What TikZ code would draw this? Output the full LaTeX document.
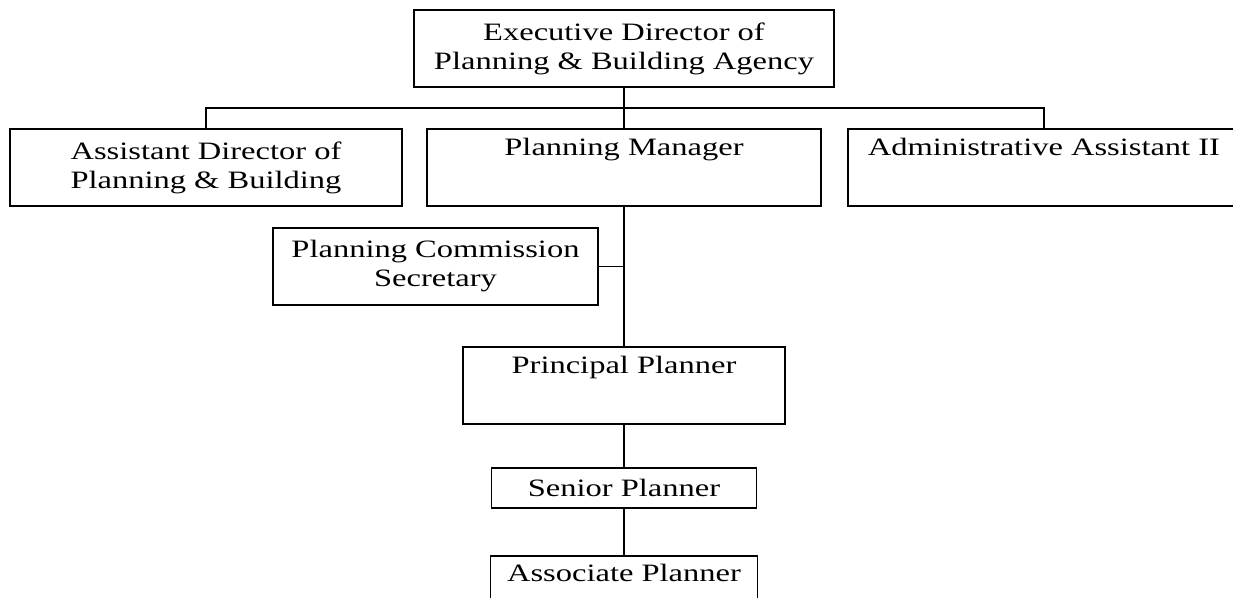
\documentclass[tikz,border=0pt]{standalone}
\usepackage{fontspec}
\setmainfont{Liberation Serif}[FakeStretch=1.3]
\usepackage{tikz}
\usetikzlibrary{positioning}
\tikzset{
  post/.style={rectangle, draw=black, line width=1.6pt, inner sep=0pt, align=center, font=\fontsize{25}{29}\selectfont},
  toptext/.style={text height=26pt, text depth=#1},
  link/.style={line width=1.6pt, black},
}

\begin{document}
\begin{tikzpicture}[x=1pt, y=-1pt]
\useasboundingbox (0,0) rectangle (1233,597);
\clip (0,0) rectangle (1233,597);
\node[post, minimum width=420pt, minimum height=77pt] (exec) at (624,48.5) {Executive Director of\\Planning \& Building Agency};
\node[post, minimum width=392pt, minimum height=77pt] (asst) at (206,167.5) {Assistant Director of\\Planning \& Building};
\node[post, minimum width=394pt, toptext=51pt] (mgr) at (624,167.5) {Planning Manager};
\node[post, minimum width=392pt, toptext=51pt] (admin) at (1044,167.5) {Administrative Assistant II};
\node[post, minimum width=325pt, minimum height=77pt] (pcs) at (435.5,266.5) {Planning Commission\\Secretary};
\node[post, minimum width=322pt, toptext=51pt] (principal) at (624,385.5) {Principal Planner};
\node[post, minimum width=265pt, minimum height=40pt] (senior) at (624,488) {Senior Planner};
\node[post, minimum width=267pt, toptext=60pt, anchor=north] (assoc) at (624,555) {Associate Planner};
\coordinate (bus) at (624,108);
% connectors
\draw[link] (exec.south) -- (mgr.north);
\draw[link] (asst.north) |- (bus) -| (admin.north);
\draw[link] (mgr.south) -- (principal.north);
\draw[link] (pcs.east) -- (pcs.east -| mgr.south);
\draw[link] (principal.south) -- (senior.north);
\draw[link] (senior.south) -- (assoc.north);
\end{tikzpicture}
\end{document}
